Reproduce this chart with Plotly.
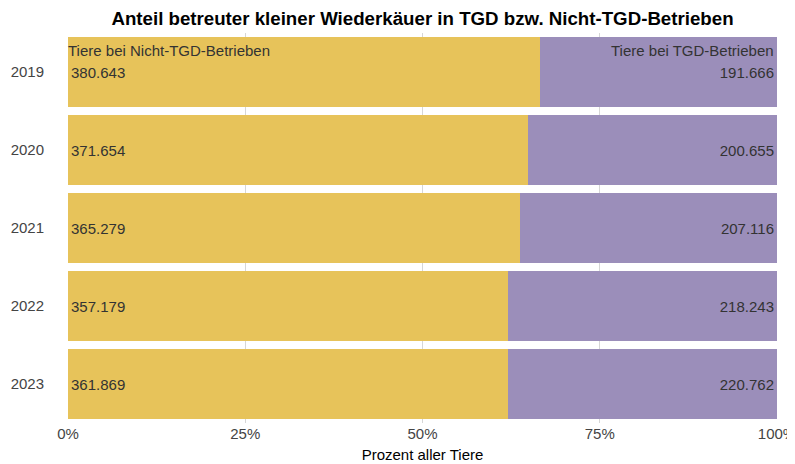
import plotly.graph_objects as go

years = ["2019", "2020", "2021", "2022", "2023"]
nicht_tgd = [380643, 371654, 365279, 357179, 361869]
tgd = [191666, 200655, 207116, 218243, 220762]

FONT = "Liberation Sans, Arial, sans-serif"


def de_num(v):
    return f"{v:,}".replace(",", ".")


fig = go.Figure()
fig.add_trace(go.Bar(
    y=years, x=nicht_tgd, orientation="h", name="Tiere bei Nicht-TGD-Betrieben",
    marker=dict(color="#E7C35A", line=dict(width=0)),
    text=[de_num(v) for v in nicht_tgd], textposition="inside",
    insidetextanchor="start", textangle=0,
    textfont=dict(size=15, color="#333333"),
    hoverinfo="skip",
))
fig.add_trace(go.Bar(
    y=years, x=tgd, orientation="h", name="Tiere bei TGD-Betrieben",
    marker=dict(color="#9B8EBA", line=dict(width=0)),
    text=[de_num(v) for v in tgd], textposition="inside",
    insidetextanchor="end", textangle=0,
    textfont=dict(size=15, color="#333333"),
    hoverinfo="skip",
))

# series labels in the first row
fig.add_annotation(x=0, y=0.956, xref="paper", yref="paper",
                   text="Tiere bei Nicht-TGD-Betrieben", showarrow=False,
                   xanchor="left", yanchor="middle", xshift=-2,
                   font=dict(size=15, color="#333333"))
fig.add_annotation(x=1, y=0.956, xref="paper", yref="paper",
                   text="Tiere bei TGD-Betrieben", showarrow=False,
                   xanchor="right", yanchor="middle", xshift=-1,
                   font=dict(size=15, color="#333333"))

# page body has an 8px margin, so the figure sits 8px in from the corner
fig.update_layout(
    width=795, height=456,
    barmode="stack", barnorm="percent", bargap=0.09,
    showlegend=False,
    plot_bgcolor="white", paper_bgcolor="white",
    font=dict(family=FONT, size=15, color="#444444"),
    title=dict(text="<b>Anteil betreuter kleiner Wiederkäuer in TGD bzw. Nicht-TGD-Betrieben</b>",
               x=0.5, xref="paper", xanchor="center",
               y=0.978, yref="container", yanchor="middle",
               font=dict(size=18.7, color="black")),
    margin=dict(l=60, r=26, t=25, b=41),
)
fig.update_xaxes(
    range=[0, 100], tickvals=[0, 25, 50, 75, 100],
    ticktext=["0%", "25%", "50%", "75%", "100%"],
    ticklabeloverflow="allow", automargin=False,
    showgrid=True, gridcolor="rgba(0,0,0,0.16)", gridwidth=1,
    layer="above traces", zeroline=False, fixedrange=True,
    title=dict(text="Prozent aller Tiere", font=dict(size=15, color="black"), standoff=8),
)
fig.update_yaxes(type="category", autorange="reversed", showgrid=False,
                 ticks="outside", ticklen=20, tickcolor="rgba(0,0,0,0)",
                 automargin=False, fixedrange=True)

# hide the scrollbars the slightly oversized page would otherwise get
fig.write_html("out.html", config={"displayModeBar": False},
               post_script="document.documentElement.style.overflow='hidden';")
